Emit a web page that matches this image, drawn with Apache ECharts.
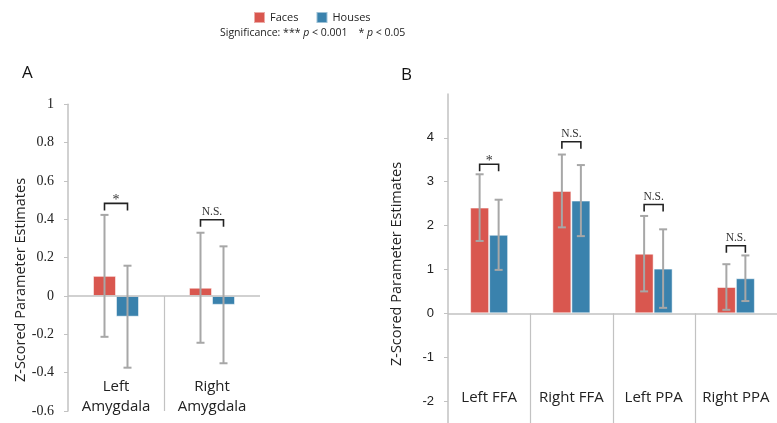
<!DOCTYPE html>
<html>
<head>
<meta charset="utf-8">
<script src="https://cdn.jsdelivr.net/npm/echarts@6/dist/echarts.min.js"></script>
<style>
  html, body { margin: 0; padding: 0; background: #fff; }
  #chart { width: 777px; height: 423px; }
</style>
</head>
<body>
<div id="chart"></div>
<script>
// panel A : amygdala
const catsA = ['Left\nAmygdala', 'Right\nAmygdala'];
const facesA = [0.105, 0.043];
const housesA = [-0.108, -0.046];
const facesErrA = [0.318, 0.287];
const housesErrA = [0.266, 0.305];
const bracketA = [0.483, 0.398];
const sigA = ['*', 'N.S.'];
const ticksA = { min: -0.6, max: 1, interval: 0.2 };

// panel B : FFA / PPA
const catsB = ['Left FFA', 'Right FFA', 'Left PPA', 'Right PPA'];
const facesB = [2.41, 2.79, 1.36, 0.60];
const housesB = [1.79, 2.57, 1.02, 0.80];
const facesErrB = [0.76, 0.83, 0.86, 0.52];
const housesErrB = [0.80, 0.81, 0.895, 0.52];
const bracketB = [3.40, 3.91, 2.48, 1.54];
const sigB = ['*', 'N.S.', 'N.S.', 'N.S.'];
const ticksB = [-2, -1, 0, 1, 2, 3, 4];

const RED = '#d9574f';
const BLUE = '#3a82ad';
const ERR = '#a7a7a7';
const AXIS = '#c2c2c2';
const SANS = '"Open Sans", sans-serif';

const chart = echarts.init(document.getElementById('chart'));

// error bar, drawn on the middle of the red (-1) or blue (+1) bar
function errRender(side, barW) {
  return function (params, api) {
    const i = api.value(0), m = api.value(1), e = api.value(2);
    const x = api.coord([i, m])[0] + side * barW / 2;
    const top = api.coord([i, m + e])[1];
    const bot = api.coord([i, m - e])[1];
    const cap = 4;
    const st = { stroke: ERR, lineWidth: 2 };
    return {
      type: 'group',
      children: [
        { type: 'line', shape: { x1: x, y1: top, x2: x, y2: bot }, style: st },
        { type: 'line', shape: { x1: x - cap, y1: top, x2: x + cap, y2: top }, style: st },
        { type: 'line', shape: { x1: x - cap, y1: bot, x2: x + cap, y2: bot }, style: st }
      ]
    };
  };
}

// significance bracket between the two bars of a category
function bracketRender(barW, labels) {
  return function (params, api) {
    const i = api.value(0);
    const p = api.coord([i, api.value(1)]);
    const x1 = p[0] - barW / 2, x2 = p[0] + barW / 2;
    const y = p[1], leg = 7;
    const txt = labels[params.dataIndex];
    return {
      type: 'group',
      children: [
        {
          type: 'polyline',
          shape: { points: [[x1, y + leg], [x1, y], [x2, y], [x2, y + leg]] },
          style: { stroke: '#222', lineWidth: 1.6, fill: null }
        },
        {
          type: 'text',
          x: p[0], y: txt === '*' ? y + 4 : y - 2,
          style: {
            text: txt, align: 'center', verticalAlign: 'bottom',
            fontFamily: '"Liberation Serif", serif',
            fontSize: txt === '*' ? 14 : 11.5, fill: '#333'
          }
        }
      ]
    };
  };
}

// category dividers, from zero line down to the bottom of the grid
function dividerRender(params, api) {
  const c = api.coord([api.value(0), 0]);
  const w = api.size([1, 0])[0];
  const x = Math.round(c[0] - w / 2) + 0.5;
  const yb = params.coordSys.y + params.coordSys.height;
  return {
    type: 'line',
    shape: { x1: x, y1: c[1], x2: x, y2: yb },
    style: { stroke: AXIS, lineWidth: 1.2 }
  };
}

const zeroLine = {
  silent: true, symbol: 'none', label: { show: false },
  lineStyle: { color: AXIS, width: 1.5, type: 'solid' },
  data: [{ yAxis: 0 }]
};

const barWA = 23, barWB = 19;

function errData(means, errs) {
  return means.map((m, i) => [i, m, errs[i]]);
}

const option = {
  animation: false,
  legend: {
    data: ['Faces', 'Houses'],
    left: 248, top: 6,
    icon: 'rect', itemWidth: 11, itemHeight: 11, itemGap: 17,
    textStyle: { fontFamily: SANS, fontSize: 11, color: '#222' }
  },
  title: {
    text: '{n|Significance: *** }{i|p}{n| < 0.001    * }{i|p}{n| < 0.05}',
    left: 220, top: 28, padding: 0,
    textStyle: {
      fontWeight: 'normal',
      rich: {
        n: { fontFamily: SANS, fontSize: 10.5, color: '#222', fontWeight: 'normal' },
        i: { fontFamily: SANS, fontSize: 10.5, color: '#222', fontWeight: 'normal', fontStyle: 'italic' }
      }
    }
  },
  graphic: [
    { type: 'text', left: 22, top: 65, style: { text: 'A', fontFamily: SANS, fontSize: 17, fill: '#111' } },
    { type: 'text', left: 401, top: 67, style: { text: 'B', fontFamily: SANS, fontSize: 17, fill: '#111' } },
    {
      type: 'text', x: 21, y: 280, rotation: Math.PI / 2,
      style: { text: 'Z-Scored Parameter Estimates', align: 'center', verticalAlign: 'middle', fontFamily: SANS, fontSize: 14.5, fill: '#222' }
    },
    {
      type: 'text', x: 397, y: 264, rotation: Math.PI / 2,
      style: { text: 'Z-Scored Parameter Estimates', align: 'center', verticalAlign: 'middle', fontFamily: SANS, fontSize: 14.5, fill: '#222' }
    }
  ],
  grid: [
    { left: 68, top: 104.3, width: 192, height: 306.7 },
    { left: 448, top: 94, right: 0, height: 329 }
  ],
  xAxis: [
    {
      type: 'category', gridIndex: 0, data: catsA,
      axisLine: { show: false }, axisTick: { show: false },
      axisLabel: {
        inside: true, interval: 0, verticalAlign: 'middle', margin: 14, lineHeight: 20,
        fontFamily: SANS, fontSize: 15, color: '#222'
      }
    },
    {
      type: 'category', gridIndex: 1, data: catsB,
      axisLine: { show: false }, axisTick: { show: false },
      axisLabel: {
        inside: true, interval: 0, verticalAlign: 'middle', margin: 25,
        fontFamily: SANS, fontSize: 15, color: '#222'
      }
    }
  ],
  yAxis: [
    {
      type: 'value', gridIndex: 0,
      min: ticksA.min, max: ticksA.max, interval: ticksA.interval,
      splitLine: { show: false },
      axisLine: { show: true, lineStyle: { color: AXIS, width: 1.5 } },
      axisTick: { show: true, length: 4, lineStyle: { color: AXIS } },
      axisLabel: { margin: 14, fontFamily: '"Liberation Serif", serif', fontSize: 14, color: '#222' }
    },
    {
      type: 'value', gridIndex: 1, min: -2.5, max: 5,
      splitLine: { show: false },
      axisLine: { show: true, lineStyle: { color: AXIS, width: 1.5 } },
      axisTick: { show: true, length: 4, customValues: ticksB, lineStyle: { color: AXIS } },
      axisLabel: { margin: 14, customValues: ticksB, fontFamily: '"Liberation Sans", Arial, sans-serif', fontSize: 13, color: '#222' }
    }
  ],
  series: [
    {
      name: 'Faces', type: 'bar', xAxisIndex: 0, yAxisIndex: 0, data: facesA,
      barWidth: barWA, barGap: '0%', color: RED,
      itemStyle: { borderColor: 'rgba(255,255,255,0.5)', borderWidth: 1 },
      markLine: zeroLine
    },
    {
      name: 'Houses', type: 'bar', xAxisIndex: 0, yAxisIndex: 0, data: housesA,
      barWidth: barWA, barGap: '0%', color: BLUE,
      itemStyle: { borderColor: 'rgba(255,255,255,0.5)', borderWidth: 1 }
    },
    {
      name: 'Faces', type: 'bar', xAxisIndex: 1, yAxisIndex: 1, data: facesB,
      barWidth: barWB, barGap: '0%', color: RED,
      itemStyle: { borderColor: 'rgba(255,255,255,0.5)', borderWidth: 1 },
      markLine: zeroLine
    },
    {
      name: 'Houses', type: 'bar', xAxisIndex: 1, yAxisIndex: 1, data: housesB,
      barWidth: barWB, barGap: '0%', color: BLUE,
      itemStyle: { borderColor: 'rgba(255,255,255,0.5)', borderWidth: 1 }
    },
    // dividers
    { type: 'custom', xAxisIndex: 0, yAxisIndex: 0, data: [[1]], renderItem: dividerRender, silent: true, z: 1 },
    { type: 'custom', xAxisIndex: 1, yAxisIndex: 1, data: [[1], [2], [3]], renderItem: dividerRender, silent: true, z: 1 },
    // error bars
    { type: 'custom', xAxisIndex: 0, yAxisIndex: 0, data: errData(facesA, facesErrA), renderItem: errRender(-1, barWA), silent: true, z: 5 },
    { type: 'custom', xAxisIndex: 0, yAxisIndex: 0, data: errData(housesA, housesErrA), renderItem: errRender(1, barWA), silent: true, z: 5 },
    { type: 'custom', xAxisIndex: 1, yAxisIndex: 1, data: errData(facesB, facesErrB), renderItem: errRender(-1, barWB), silent: true, z: 5 },
    { type: 'custom', xAxisIndex: 1, yAxisIndex: 1, data: errData(housesB, housesErrB), renderItem: errRender(1, barWB), silent: true, z: 5 },
    // brackets
    { type: 'custom', xAxisIndex: 0, yAxisIndex: 0, data: bracketA.map((v, i) => [i, v]), renderItem: bracketRender(barWA, sigA), silent: true, z: 6 },
    { type: 'custom', xAxisIndex: 1, yAxisIndex: 1, data: bracketB.map((v, i) => [i, v]), renderItem: bracketRender(barWB, sigB), silent: true, z: 6 }
  ]
};

chart.setOption(option);
</script>
</body>
</html>
